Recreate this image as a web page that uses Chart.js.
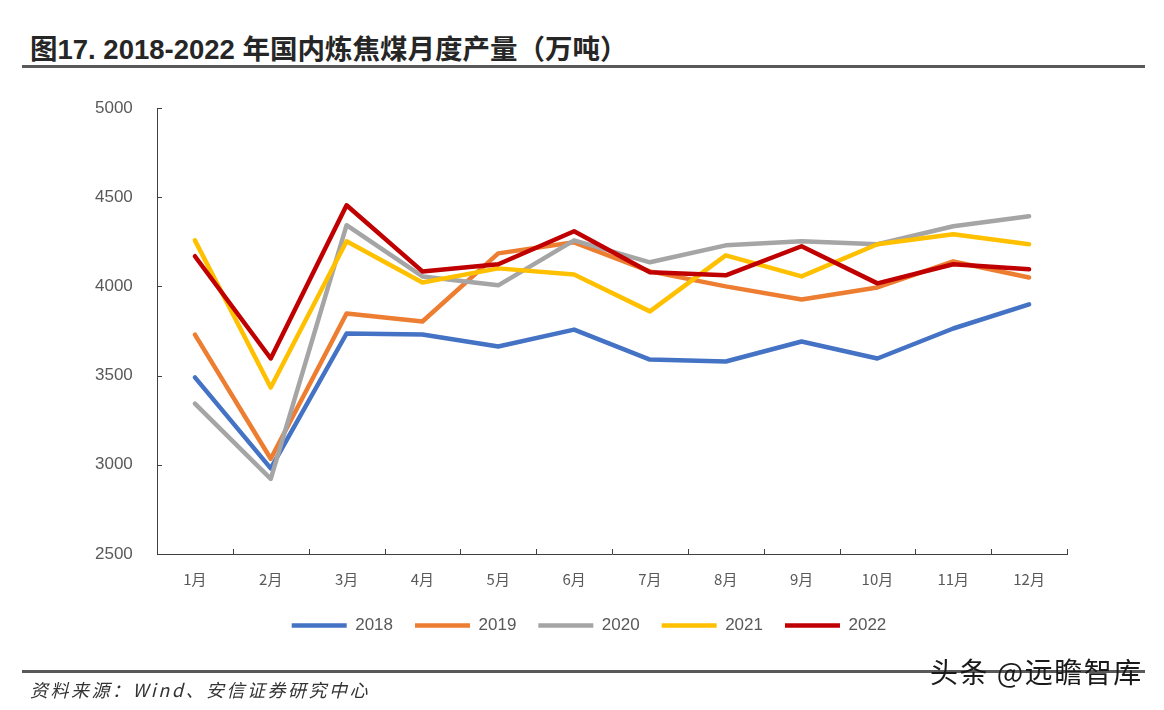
<!DOCTYPE html>
<html>
<head>
<meta charset="utf-8">
<script src="https://cdn.jsdelivr.net/npm/chart.js@4.4.0/dist/chart.umd.min.js"></script>
<style>
  body { margin: 0; background: #fff; width: 1164px; height: 710px; overflow: hidden; position: relative; }
  #wrap { position: absolute; left: 0; top: 0; width: 1164px; height: 710px; }
  .title { position: absolute; left: 30px; top: 27px; font: bold 27.5px "Liberation Sans", "Noto Sans CJK SC", sans-serif; color: #262626; white-space: nowrap; }
  .title .cn { font-family: "Noto Sans CJK SC", sans-serif; font-weight: bold; }
  .rule { position: absolute; left: 22px; width: 1123px; height: 3px; background: #595959; }
  .source { position: absolute; left: 30px; top: 676px; font: italic 18px "Noto Sans CJK SC", sans-serif; letter-spacing: 2.5px; color: #333; white-space: nowrap; }
  .mark { position: absolute; left: 930px; top: 651px; font: 28px "Noto Sans CJK SC", sans-serif; letter-spacing: 1.5px; color: #1a1a1a; white-space: nowrap; }
</style>
</head>
<body>
<div class="title">图17. 2018-2022 <span class="cn">年国内炼焦煤月度产量（万吨）</span></div>
<div class="rule" style="top:65px"></div>
<div id="wrap"><canvas id="myChart" width="1164" height="710"></canvas></div>
<div class="rule" style="top:670px"></div>
<div class="source">资料来源：Wind、安信证券研究中心</div>
<div class="mark">头条 @远瞻智库</div>
<script>
const ctx = document.getElementById('myChart');
const months = ["1月", "2月", "3月", "4月", "5月", "6月", "7月", "8月", "9月", "10月", "11月", "12月"];

const v2018 = [3490, 2980, 3736, 3730, 3663, 3758, 3590, 3579, 3691, 3596, 3764, 3899];
const v2019 = [3730, 3034, 3848, 3803, 4185, 4247, 4084, 4000, 3927, 3994, 4140, 4050];
const v2020 = [3343, 2921, 4343, 4056, 4006, 4258, 4135, 4230, 4253, 4236, 4337, 4393];
const v2021 = [4258, 3433, 4253, 4022, 4101, 4067, 3860, 4174, 4056, 4236, 4292, 4236];
const v2022 = [4169, 3596, 4455, 4084, 4124, 4309, 4079, 4062, 4225, 4017, 4124, 4096];

const yTicks = [2500, 3000, 3500, 4000, 4500, 5000];

function line(label, data, color, order) {
    return {
        label: label,
        data: data,
        borderColor: color,
        backgroundColor: color,
        borderWidth: 4.5,
        borderCapStyle: 'round',
        borderJoinStyle: 'round',
        pointRadius: 0,
        pointHoverRadius: 0,
        tension: 0,
        order: order
    };
}

// excel style tick marks pointing into the plot
const innerTicks = {
    id: 'innerTicks',
    afterDraw(chart) {
        const c = chart.ctx;
        const x = chart.scales.x, y = chart.scales.y;
        const len = 5;
        c.save();
        c.strokeStyle = '#404040';
        c.lineWidth = 1;
        c.beginPath();
        y.ticks.forEach(t => {
            const py = Math.round(y.getPixelForValue(t.value)) + 0.5;
            c.moveTo(y.right, py);
            c.lineTo(y.right + len, py);
        });
        for (let i = 0; i <= months.length; i++) {
            const px = Math.round(x.getPixelForValue(i - 0.5)) + 0.5;
            c.moveTo(px, x.top);
            c.lineTo(px, x.top - len);
        }
        c.stroke();
        c.restore();
    }
};

const yFont = { family: '"Liberation Sans", Arial, sans-serif', size: 17 };

new Chart(ctx, {
    type: 'line',
    data: {
        labels: months,
        datasets: [
            line('2018', v2018, '#4472C4', 5),
            line('2019', v2019, '#ED7D31', 4),
            line('2020', v2020, '#A5A5A5', 3),
            line('2021', v2021, '#FFC000', 2),
            line('2022', v2022, '#C00000', 1)
        ]
    },
    plugins: [innerTicks],
    options: {
        responsive: false,
        animation: false,
        // left padding keeps the legend centred like the original; y labels are mirrored out past it
        layout: { padding: { left: 111, top: 108, right: 97, bottom: 66 } },
        plugins: {
            tooltip: { enabled: false },
            legend: {
                position: 'bottom',
                labels: {
                    usePointStyle: true,
                    pointStyle: 'line',
                    pointStyleWidth: 55,
                    padding: 22,
                    color: '#595959',
                    font: { family: '"Liberation Sans", Arial, sans-serif', size: 17 },
                    sort: (a, b) => a.datasetIndex - b.datasetIndex
                }
            }
        },
        scales: {
            x: {
                offset: true,
                grid: { display: false },
                border: { display: true, color: '#404040', width: 1 },
                ticks: {
                    color: '#595959',
                    padding: 8,
                    font: { family: '"Noto Sans CJK SC", sans-serif', size: 15 },
                    maxRotation: 0
                },
                afterFit: (scale) => { scale.height = 41; }
            },
            y: {
                min: 2500,
                max: 5000,
                afterBuildTicks: (scale) => { scale.ticks = yTicks.map(v => ({ value: v })); },
                grid: { display: false },
                border: { display: true, color: '#404040', width: 1 },
                ticks: {
                    color: '#595959',
                    mirror: true,
                    crossAlign: 'far',
                    padding: -62,
                    font: yFont,
                    callback: (v) => String(v)
                },
                afterFit: (scale) => { scale.width = 46; }
            }
        }
    }
});
</script>
</body>
</html>
